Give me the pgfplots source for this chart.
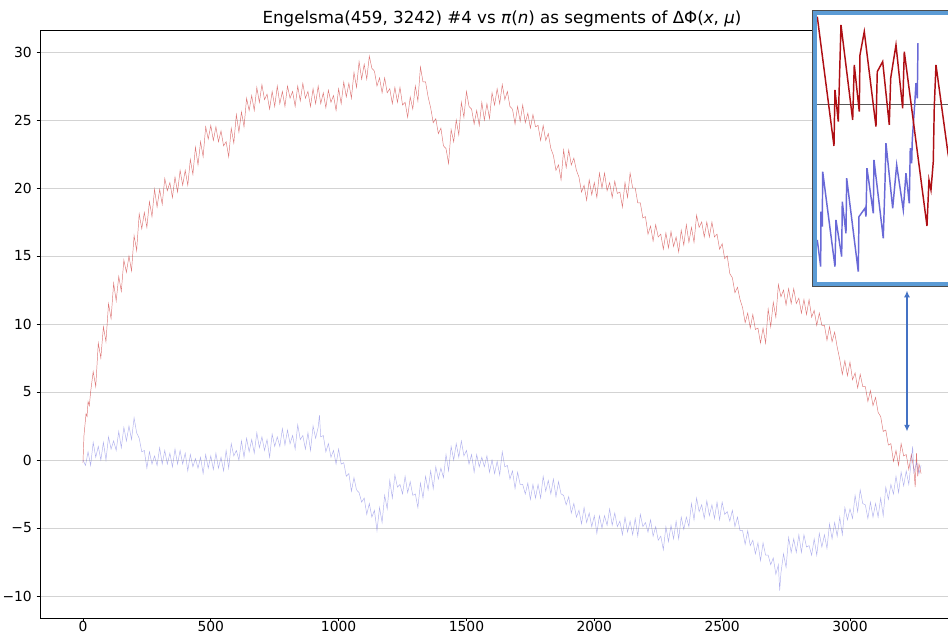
\documentclass[border=0pt]{standalone}
\usepackage{pgfplots}
\pgfplotsset{compat=1.18}
\usepackage{fontspec}
\setmainfont{DejaVu Sans}
\usetikzlibrary{arrows.meta}
\definecolor{redline}{RGB}{200,30,30}
\definecolor{blueline}{RGB}{100,100,220}
\definecolor{insetred}{RGB}{175,15,20}
\definecolor{insetblue}{RGB}{105,105,215}
\definecolor{framblue}{RGB}{91,155,213}
\definecolor{arrowblue}{RGB}{68,114,196}
\definecolor{gridgray}{RGB}{211,211,211}
\pgfplotsset{every axis title/.style={at={(0.5,1)}, anchor=base, yshift=4.6pt, inner sep=0pt}}
\begin{document}
\begin{tikzpicture}
\useasboundingbox (0,0) rectangle (711pt,476.25pt);
\clip (0,0) rectangle (711pt,476.25pt);
\begin{axis}[
  at={(30pt,12.75pt)}, anchor=south west, scale only axis,
  width=693pt, height=441pt,
  xmin=-168, xmax=3446, ymin=-11.62, ymax=31.62,
  xtick={0,500,1000,1500,2000,2500,3000},
  xticklabels={0,500,1000,1500,2000,2500,3000},
  ytick={-10,-5,0,5,10,15,20,25,30},
  yticklabels={−10,−5,0,5,10,15,20,25,30},
  ymajorgrids, grid style={draw=gridgray, line width=0.6pt},
  tick align=outside, tick pos=left,
  major tick length=2.6pt,
  tick style={black, line width=0.6pt},
  axis line style={line width=0.6pt, black},
  /pgf/number format/1000 sep={},
  /pgf/number format/assume math mode=true,
  ticklabel style={font=\fontsize{10.4}{12}\selectfont},
  xticklabel style={yshift=3.8pt},
  title={Engelsma(459, 3242) \#4 vs \textit{π}(\textit{n}) as segments of ΔΦ(\textit{x}, \textit{μ})},
  title style={font=\fontsize{12.5}{15}\selectfont},
  clip mode=individual,
]
\addplot[redline, opacity=0.6, line width=0.35pt] coordinates {
(0,-0.2)(4,1.8)(8,2.6)(12,3.4)(16,3.2)(20,4.3)(25,4.0)(30,5.0)
(40,6.5)(50,5.4)(60,8.6)(70,7.5)(80,9.8)(90,8.7)(100,11.5)(110,10.4)(120,13.0)(130,11.7)(140,13.5)(150,12.4)
(160,14.7)(170,13.8)(180,15.0)(190,13.9)(200,16.5)(210,15.4)(220,18.1)(230,17.0)(240,18.2)(250,17.1)
(260,19.0)(270,17.9)(280,19.9)(290,18.6)(300,19.9)(310,18.8)(320,20.7)(330,19.8)(340,20.4)(350,19.3)
(360,20.8)(370,19.7)(380,21.3)(390,20.2)(400,21.3)(410,20.2)(420,22.1)(430,21.0)(440,23.0)(450,21.7)
(460,23.4)(470,22.3)(480,24.5)(490,23.6)(500,24.6)(510,23.5)(520,24.5)(530,23.4)(540,24.2)(550,23.1)
(560,23.4)(570,22.3)(580,24.4)(590,23.3)(600,25.4)(610,24.1)(620,25.6)(630,24.5)(640,26.6)(650,25.7)
(660,26.8)(670,25.7)(680,27.4)(690,26.3)(700,27.6)(710,26.5)(720,26.9)(730,25.8)(740,27.1)(750,26.0)
(760,27.5)(770,26.2)(780,27.1)(790,26.0)(800,27.5)(810,26.6)(820,27.1)(830,26.0)(840,27.5)(850,26.4)
(860,27.7)(870,26.6)(880,27.1)(890,26.0)(900,27.3)(910,26.2)(920,27.5)(930,26.2)(940,27.0)(950,25.9)
(960,27.2)(970,26.3)(980,26.8)(990,25.7)(1000,27.3)(1010,26.2)(1020,27.8)(1030,26.7)(1040,27.7)(1050,26.6)
(1060,28.5)(1070,27.4)(1080,29.3)(1090,28.0)(1100,29.1)(1110,28.0)(1120,29.7)(1130,28.8)(1140,28.6)(1150,27.5)
(1160,28.1)(1170,27.0)(1180,28.1)(1190,27.0)(1200,27.3)(1210,26.2)(1220,27.4)(1230,26.3)(1240,27.4)(1250,26.1)
(1260,26.3)(1270,25.2)(1280,26.7)(1290,25.8)(1300,27.5)(1310,26.4)(1320,28.9)(1330,27.8)(1340,27.8)(1350,26.7)
(1360,25.9)(1370,24.8)(1380,25.1)(1390,24.0)(1400,24.4)(1410,23.1)(1420,22.9)(1430,21.8)(1440,24.3)(1450,23.4)
(1460,25.0)(1470,23.9)(1480,26.3)(1490,25.2)(1500,27.1)(1510,26.0)(1520,25.8)(1530,24.7)(1540,25.7)(1550,24.6)
(1560,26.3)(1570,25.0)(1580,26.2)(1590,25.1)(1600,27.0)(1610,26.1)(1620,27.3)(1630,26.2)(1640,27.6)(1650,26.5)
(1660,27.1)(1670,26.0)(1680,25.8)(1690,24.7)(1700,26.0)(1710,24.9)(1720,26.1)(1730,24.8)(1740,25.5)(1750,24.4)
(1760,25.4)(1770,24.5)(1780,24.6)(1790,23.5)(1800,24.6)(1810,23.5)(1820,24.0)(1830,22.9)(1840,22.4)(1850,21.3)
(1860,21.7)(1870,20.6)(1880,22.8)(1890,21.5)(1900,22.8)(1910,21.7)(1920,22.2)(1930,21.3)(1940,20.8)(1950,19.7)
(1960,20.2)(1970,19.1)(1980,20.6)(1990,19.5)(2000,20.4)(2010,19.3)(2020,21.1)(2030,20.0)(2040,21.1)(2050,19.8)
(2060,20.4)(2070,19.3)(2080,20.5)(2090,19.6)(2100,19.7)(2110,18.6)(2120,20.4)(2130,19.3)(2140,21.1)(2150,20.0)
(2160,20.0)(2170,18.9)(2180,18.9)(2190,17.8)(2200,17.9)(2210,16.6)(2220,17.2)(2230,16.1)(2240,17.3)(2250,16.4)
(2260,16.6)(2270,15.5)(2280,16.7)(2290,15.6)(2300,16.8)(2310,15.7)(2320,16.4)(2330,15.3)(2340,16.9)(2350,15.8)
(2360,17.3)(2370,16.0)(2380,17.1)(2390,16.0)(2400,18.0)(2410,17.1)(2420,17.5)(2430,16.4)(2440,17.5)(2450,16.4)
(2460,17.5)(2470,16.4)(2480,16.6)(2490,15.5)(2500,15.9)(2510,14.8)(2520,15.0)(2530,13.7)(2540,13.4)(2550,12.3)
(2560,12.7)(2570,11.8)(2580,11.2)(2590,10.1)(2600,10.8)(2610,9.7)(2620,10.7)(2630,9.6)(2640,9.7)(2650,8.6)
(2660,9.7)(2670,8.6)(2680,11.1)(2690,9.8)(2700,11.6)(2710,10.5)(2720,12.9)(2730,12.0)(2740,12.5)(2750,11.4)
(2760,12.6)(2770,11.5)(2780,12.6)(2790,11.5)(2800,11.9)(2810,10.8)(2820,11.8)(2830,10.7)(2840,11.8)(2850,10.5)
(2860,11.0)(2870,9.9)(2880,10.8)(2890,9.9)(2900,9.9)(2910,8.8)(2920,9.8)(2930,8.7)(2940,9.4)(2950,8.3)
(2960,7.4)(2970,6.3)(2980,7.3)(2990,6.2)(3000,7.2)(3010,5.9)(3020,6.4)(3030,5.3)(3040,6.3)(3050,5.4)
(3060,5.4)(3070,4.3)(3080,5.1)(3090,4.0)(3100,4.6)(3110,3.5)(3120,3.2)(3130,2.1)(3140,2.2)(3150,1.1)
(3160,1.2)(3170,-0.1)(3180,0.7)(3190,-0.4)(3200,1.2)(3210,0.3)(3220,0.4)(3230,-0.7)(3240,0.4)(3250,-0.7)
(3255,-2.0)(3260,0.5)(3265,-1.2)(3270,-0.3)(3278,-1.0)
};
\addplot[blueline, opacity=0.5, line width=0.35pt] coordinates {
(0,0.0)(10,-0.4)(20,0.6)(30,-0.4)(40,1.3)(50,0.2)(60,1.0)(70,0.0)(80,1.3)(90,0.0)
(100,1.7)(110,0.8)(120,1.4)(130,0.7)(140,2.1)(150,0.9)(160,2.4)(170,1.4)(180,2.5)(190,1.5)
(200,3.1)(210,2.0)(220,1.6)(230,0.6)(240,0.7)(250,-0.6)(260,0.6)(270,-0.3)(280,0.3)(290,-0.4)
(300,0.9)(310,-0.3)(320,0.7)(330,-0.3)(340,0.5)(350,-0.5)(360,0.8)(370,-0.3)(380,0.7)(390,-0.3)
(400,0.5)(410,-0.8)(420,0.4)(430,-0.5)(440,0.1)(450,-0.6)(460,0.2)(470,-1.0)(480,0.4)(490,-0.6)
(500,0.3)(510,-0.7)(520,0.5)(530,-0.6)(540,0.2)(550,-0.8)(560,0.7)(570,-0.6)(580,1.2)(590,0.3)
(600,0.7)(610,0.0)(620,1.4)(630,0.2)(640,1.6)(650,0.6)(660,1.5)(670,0.5)(680,2.0)(690,0.9)
(700,1.7)(710,0.7)(720,1.5)(730,0.2)(740,1.9)(750,1.0)(760,1.7)(770,1.0)(780,2.3)(790,1.1)
(800,2.2)(810,1.2)(820,1.8)(830,0.8)(840,2.6)(850,1.5)(860,1.8)(870,0.8)(880,2.0)(890,0.7)
(900,2.5)(910,1.6)(920,2.4)(925,3.3)(930,1.7)(940,1.8)(950,0.6)(960,1.2)(970,0.2)(980,0.7)(990,-0.3)
(1000,0.8)(1010,-0.3)(1020,-0.2)(1030,-1.2)(1040,-1.0)(1050,-2.3)(1060,-1.3)(1070,-2.2)(1080,-2.4)(1090,-3.1)
(1100,-2.8)(1110,-4.0)(1120,-3.2)(1130,-4.2)(1140,-3.7)(1150,-5.2)(1160,-3.5)(1170,-4.6)(1180,-2.6)(1190,-3.6)
(1200,-1.5)(1210,-2.8)(1220,-1.1)(1230,-2.0)(1240,-1.8)(1250,-2.5)(1260,-1.2)(1270,-2.4)(1280,-1.6)(1290,-2.6)
(1300,-2.5)(1310,-3.5)(1320,-1.7)(1330,-2.8)(1340,-1.2)(1350,-2.2)(1360,-0.8)(1370,-2.1)(1380,-0.5)(1390,-1.4)
(1400,-0.6)(1410,-1.3)(1420,0.4)(1430,-0.8)(1440,1.0)(1450,0.0)(1460,1.2)(1470,0.2)(1480,1.4)(1490,0.3)
(1500,0.7)(1510,-0.3)(1520,0.4)(1530,-0.9)(1540,0.4)(1550,-0.5)(1560,0.2)(1570,-0.5)(1580,0.3)(1590,-0.9)
(1600,0.0)(1610,-1.0)(1620,-0.1)(1630,-1.1)(1640,0.6)(1650,-0.5)(1660,-0.4)(1670,-1.4)(1680,-0.8)(1690,-2.1)
(1700,-0.9)(1710,-1.8)(1720,-1.8)(1730,-2.5)(1740,-1.7)(1750,-2.9)(1760,-1.8)(1770,-2.8)(1780,-1.8)(1790,-2.8)
(1800,-1.2)(1810,-2.3)(1820,-1.5)(1830,-2.5)(1840,-1.4)(1850,-2.7)(1860,-1.6)(1870,-2.5)(1880,-2.6)(1890,-3.3)
(1900,-2.7)(1910,-3.9)(1920,-3.2)(1930,-4.2)(1940,-3.7)(1950,-4.7)(1960,-3.5)(1970,-4.6)(1980,-3.9)(1990,-4.9)
(2000,-4.1)(2010,-5.4)(2020,-4.1)(2030,-5.0)(2040,-4.1)(2050,-4.8)(2060,-3.6)(2070,-4.8)(2080,-3.9)(2090,-4.9)
(2100,-4.5)(2110,-5.5)(2120,-4.2)(2130,-5.3)(2140,-4.5)(2150,-5.5)(2160,-4.3)(2170,-5.6)(2180,-4.0)(2190,-4.9)
(2200,-4.6)(2210,-5.3)(2220,-4.4)(2230,-5.6)(2240,-4.9)(2250,-5.9)(2260,-5.6)(2270,-6.6)(2280,-4.9)(2290,-6.0)
(2300,-4.8)(2310,-5.8)(2320,-4.5)(2330,-5.8)(2340,-4.2)(2350,-5.1)(2360,-4.2)(2370,-4.9)(2380,-3.2)(2390,-4.4)
(2400,-2.8)(2410,-3.8)(2420,-3.3)(2430,-4.3)(2440,-3.0)(2450,-4.1)(2460,-3.3)(2470,-4.3)(2480,-3.1)(2490,-4.4)
(2500,-3.1)(2510,-4.0)(2520,-3.8)(2530,-4.5)(2540,-3.7)(2550,-4.9)(2560,-4.2)(2570,-5.2)(2580,-5.2)(2590,-6.2)
(2600,-5.2)(2610,-6.3)(2620,-5.9)(2630,-6.9)(2640,-6.1)(2650,-7.4)(2660,-6.1)(2670,-7.0)(2680,-7.0)(2690,-7.7)
(2700,-7.2)(2710,-8.4)(2720,-7.7)(2725,-9.6)(2730,-8.3)(2740,-6.9)(2750,-7.9)(2760,-5.7)(2770,-6.8)(2780,-5.8)(2790,-6.8)
(2800,-5.5)(2810,-6.8)(2820,-5.5)(2830,-6.4)(2840,-6.3)(2850,-7.0)(2860,-5.8)(2870,-7.0)(2880,-5.4)(2890,-6.4)
(2900,-5.5)(2910,-6.5)(2920,-4.7)(2930,-5.8)(2940,-4.6)(2950,-5.6)(2960,-4.2)(2970,-5.5)(2980,-3.5)(2990,-4.4)
(3000,-3.6)(3010,-4.3)(3020,-2.6)(3030,-3.8)(3040,-2.2)(3050,-3.2)(3060,-3.3)(3070,-4.3)(3080,-3.1)(3090,-4.2)
(3100,-3.2)(3110,-4.2)(3120,-2.8)(3130,-4.1)(3140,-2.0)(3150,-2.9)(3160,-1.8)(3170,-2.5)(3180,-1.2)(3190,-2.4)
(3200,-0.9)(3210,-1.9)(3220,-0.8)(3230,-1.8)(3240,0.0)(3245,1.0)(3250,-0.9)(3260,-0.2)(3270,-1.0)(3278,-0.4)
};
\draw[{Latex[length=5pt,width=4.5pt]}-{Latex[length=5pt,width=4.5pt]}, arrowblue, line width=0.9pt]
  (axis cs:3223,12.45) -- (axis cs:3223,2.1);
\end{axis}
% inset background
\fill[white] (609pt,261pt) rectangle (780pt,468.75pt);
\begin{axis}[
  at={(612.5pt,265pt)}, anchor=south west, scale only axis,
  width=150pt, height=199.5pt,
  xmin=816.7, xmax=1016.7, ymin=-281.7, ymax=-15.7,
  hide axis, clip=true,
]
\addplot[black!65, line width=0.7pt] coordinates {(816.7,-104.3) (1016.7,-104.3)};
\addplot[insetblue, line width=1.1pt] coordinates {
(817.3,-240)(820.7,-266.7)(821,-211.7)(822.3,-226.7)(822.7,-171.7)(835,-266.7)(836,-220)
(841.7,-256.7)(842.3,-201.7)(846,-233.3)(846.7,-178.3)(858.3,-271.7)(859,-216.7)(865,-208.3)
(866,-216.7)(867,-168.3)(873.3,-213.3)(874,-160)(883.3,-238.3)(885,-183.3)(886,-143.3)
(892.7,-208.3)(896.7,-165)(903.3,-210)(906,-173.3)(909.3,-203.3)(910.3,-148.3)(911.7,-163.3)
(912.3,-140)(915,-100)(916,-83.3)(917.3,-98.3)(918,-43.3)
};
\addplot[insetred, line width=1.1pt] coordinates {
(817.3,-16.7)(834,-146)(835,-90)(838.3,-121.7)(841,-25)(852.7,-120)(854.3,-65)(859.3,-111.7)
(860,-55)(864.3,-31.7)(876,-126.7)(877.3,-71.7)(882.7,-61.7)(889.3,-125)(890.7,-78.3)(896,-45)
(902.7,-108.3)(904.3,-51.7)(927,-226)(929,-180)(931,-190)(933.3,-161.7)(934.3,-106.7)(936,-65)
(948,-153.3)(952,-175)
};
\end{axis}
% inset frame
\draw[framblue, line width=2.6pt] (611.4pt,263.4pt) rectangle (790pt,466.35pt);
\draw[black!70, line width=1.1pt] (609.55pt,261.55pt) rectangle (792pt,468.2pt);
\end{tikzpicture}
\end{document}
